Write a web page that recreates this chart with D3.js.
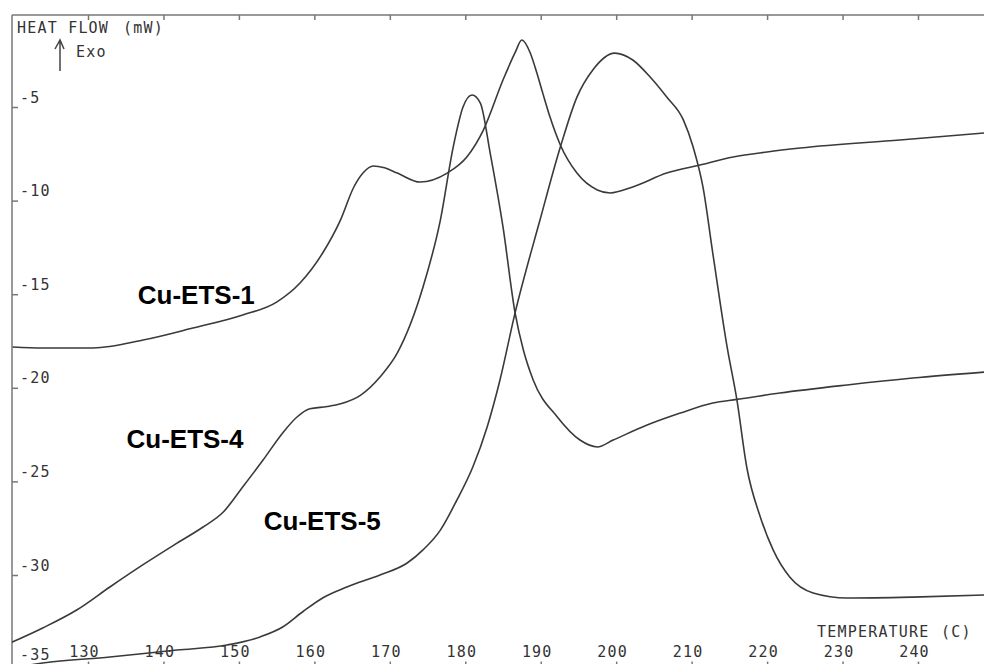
<!DOCTYPE html>
<html>
<head>
<meta charset="utf-8">
<script src="https://cdn.jsdelivr.net/npm/d3@7"></script>
<style>
  html, body { margin: 0; padding: 0; background: #fff; }
  svg { display: block; }
</style>
</head>
<body>
<svg id="chart" width="984" height="664"></svg>
<script>
// ---- data (temperature °C, heat flow mW) ----
const cuETS1 = [
  [120,-17.82],[124,-17.87],[130.7,-17.87],[137.3,-17.45],[143.9,-16.81],[150.5,-16.11],
  [155,-15.42],[158.1,-14.4],[161.1,-12.8],[163.5,-11.0],[165.2,-9.3],[166.5,-8.5],
  [167.8,-8.15],[169.3,-8.25],[171,-8.53],[174,-9.01],[177.6,-8.53],
  [180.2,-7.67],[182.4,-6.23],[185,-3.56],[186.6,-2.1],[187.5,-1.42],[188.6,-2.1],
  [189.5,-3.2],[190.3,-4.3],[191.2,-5.5],[192.6,-7.03],[194.8,-8.53],[197.5,-9.43],
  [199.2,-9.59],[202.2,-9.27],[206.7,-8.53],[211.1,-8.1],[215.5,-7.67],[220,-7.4],
  [224.4,-7.19],[237.6,-6.76],[248.8,-6.39]
];
const cuETS4 = [
  [119.7,-33.63],[124,-32.83],[128.5,-31.87],[132.9,-30.64],[137.3,-29.45],[141.8,-28.3],
  [145.2,-27.45],[147.9,-26.65],[150.5,-25.3],[153.2,-23.86],[155.8,-22.41],[157.7,-21.56],
  [159.4,-21.12],[161.7,-21.0],[163.5,-20.85],[166.1,-20.4],[168.7,-19.42],[171,-18.14],
  [174.4,-14.62],[176.7,-11.04],[178.4,-7.14],[179.7,-5.0],[180.9,-4.36],[182,-4.79],
  [183.3,-7.46],[185,-11.41],[186.6,-16.0],[187.7,-17.98],[189,-19.58],[192.2,-21.56],
  [195.2,-22.79],[197.5,-23.16],[199.6,-22.79],[204.1,-21.99],[208.5,-21.35],[212.8,-20.81],
  [216,-20.62],[221.7,-20.28],[230.6,-19.85],[239.3,-19.48],[248.8,-19.16]
];
const cuETS5 = [
  [120,-34.97],[124,-34.7],[132.9,-34.38],[141.8,-34.01],[148.4,-33.74],[152.8,-33.31],
  [155.8,-32.78],[158.5,-31.95],[161.2,-31.2],[164.3,-30.64],[168.7,-30.0],
  [172.3,-29.36],[174.4,-28.66],[176.7,-27.6],[178.9,-25.99],[181,-24.23],[182.9,-22.09],
  [184.6,-19.58],[186.6,-16.0],[189.9,-11.04],[192.6,-7.14],[194.8,-4.47],
  [196.9,-3.02],[199.8,-2.12],[202.2,-2.49],[204.5,-3.4],[206.7,-4.47],[208.9,-5.69],
  [210.2,-7.14],[211.5,-9.27],[212.8,-12.8],[214.7,-17.82],[216,-20.65],[217.3,-24.23],
  [219.1,-26.9],[220.8,-28.66],[223,-30.11],[226.1,-30.96],[230.6,-31.23],[239.3,-31.18],
  [248.8,-31.07]
];
const seriesNames = ["Cu-ETS-1", "Cu-ETS-4", "Cu-ETS-5"];
const xTicks = [130,140,150,160,170,180,190,200,210,220,230,240];
const yTicks = [-5,-10,-15,-20,-25,-30,-35];
// label anchor points in data units (temperature, heat flow)
const labelPos = [[136.6,-15.5],[135.1,-23.2],[153.3,-27.6]];

// ---- drawing ----
const svg = d3.select("#chart");
const x = d3.scaleLinear().domain([130, 240]).range([88, 918]);
const y = d3.scaleLinear().domain([-5, -35]).range([107, 668.6]);
const axisColor = "#777";
const textColor = "#333";
const monoFont = "'DejaVu Sans Mono', 'Liberation Mono', monospace";
const mono = sel => sel.attr("fill", textColor)
  .style("font-family", monoFont).style("font-size", "15px").style("letter-spacing", "1.2px");

// frame lines (top and left)
svg.append("line").attr("x1", 12).attr("x2", 984).attr("y1", 15).attr("y2", 15)
  .attr("stroke", axisColor).attr("stroke-width", 1.5);
svg.append("line").attr("x1", 12).attr("x2", 12).attr("y1", 15).attr("y2", 664)
  .attr("stroke", axisColor).attr("stroke-width", 1.5);

// top ticks
const topAxis = svg.append("g").attr("transform", "translate(0,15)")
  .call(d3.axisBottom(x).tickValues(xTicks).tickSize(5).tickFormat(""));
topAxis.select(".domain").remove();
topAxis.selectAll("line").attr("stroke", axisColor).attr("stroke-width", 1.5);

// bottom axis (ticks point up, labels above)
const botAxis = svg.append("g").attr("transform", `translate(0,${y(-35)})`)
  .call(d3.axisTop(x).tickValues(xTicks).tickSize(7).tickPadding(5).tickFormat(d3.format("d")));
botAxis.select(".domain").remove();
botAxis.selectAll("line").attr("stroke", axisColor).attr("stroke-width", 1.5);
botAxis.selectAll("text").attr("dx", -4).call(mono);

// left axis (ticks inward, labels above-right)
const leftAxis = svg.append("g").attr("transform", "translate(12,0)")
  .call(d3.axisRight(y).tickValues(yTicks).tickSize(6).tickPadding(2).tickFormat(d => String(d)));
leftAxis.select(".domain").remove();
leftAxis.selectAll("line").attr("stroke", axisColor).attr("stroke-width", 1.5);
leftAxis.selectAll("text")
  .attr("dy", d => d === -35 ? -9 : -5)
  .attr("text-anchor", "start")
  .call(mono);

// axis titles
svg.append("text").attr("x", 17).attr("y", 33).text("HEAT FLOW").call(mono);
svg.append("text").attr("x", 123).attr("y", 33).text("(mW)").call(mono);
svg.append("text").attr("x", 76).attr("y", 57).text("Exo").call(mono);
svg.append("text").attr("x", 817).attr("y", 637).text("TEMPERATURE").call(mono);
svg.append("text").attr("x", 941).attr("y", 637).text("(C)").call(mono);

// exo arrow
svg.append("path")
  .attr("d", "M60,71 L60,40 M55,49 L60,40 L64,49")
  .attr("fill", "none").attr("stroke", "#444").attr("stroke-width", 1.5);

// curves
const line = d3.line()
  .x(d => x(d[0])).y(d => y(d[1]))
  .curve(d3.curveMonotoneX);
svg.append("defs").append("clipPath").attr("id", "plotClip")
  .append("rect").attr("x", 12).attr("y", 15).attr("width", 972).attr("height", 660);
const plot = svg.append("g").attr("clip-path", "url(#plotClip)");
[cuETS1, cuETS4, cuETS5].forEach(s => {
  plot.append("path").datum(s)
    .attr("d", line)
    .attr("fill", "none")
    .attr("stroke", "#3a3a3a")
    .attr("stroke-width", 1.6)
    .attr("stroke-linejoin", "round");
});

// series labels
seriesNames.forEach((name, i) => {
  svg.append("text")
    .attr("x", x(labelPos[i][0]))
    .attr("y", y(labelPos[i][1]))
    .text(name)
    .attr("fill", "#000")
    .style("font-family", "'Liberation Sans', Arial, Helvetica, sans-serif")
    .style("font-weight", "bold")
    .style("font-size", "26px");
});
</script>
</body>
</html>
